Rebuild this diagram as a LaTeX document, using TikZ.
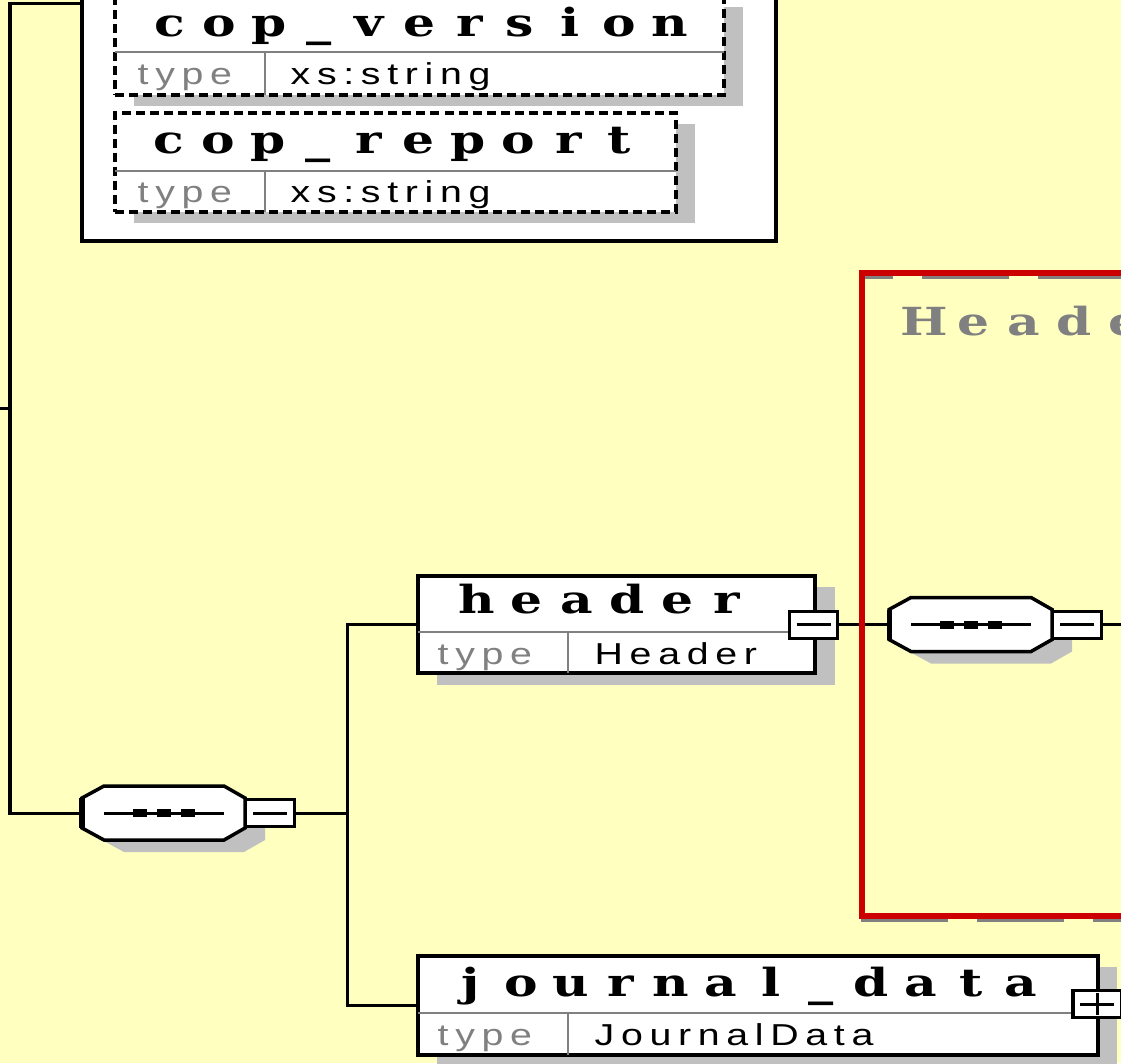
\documentclass[tikz,border=0pt]{standalone}
\usepackage{fontspec}
\usepackage{graphicx}
\usetikzlibrary{fit,calc}
\newfontfamily\namefont{DejaVu Serif}
\newfontfamily\tyfont{Liberation Sans}[LetterSpace=17]
\definecolor{bgyellow}{RGB}{255,255,192}
\definecolor{shadowgray}{RGB}{192,192,192}
\definecolor{sepgray}{RGB}{128,128,128}
\definecolor{boxred}{RGB}{204,0,0}
\ExplSyntaxOn
\NewDocumentCommand\cells{m}{\tl_map_inline:nn {#1} {\makebox[0.5cm][c]{\scalebox{1.3}[1]{##1}}}}
\ExplSyntaxOff
\newcommand\nmtext[1]{{\namefont\bfseries\fontsize{11pt}{13pt}\selectfont\cells{#1}}}
\newcommand\tytext[1]{\scalebox{1.3}[1]{\tyfont\fontsize{8.6pt}{10pt}\selectfont #1}}
\tikzset{
  conn/.style={draw=black, line width=0.03cm},
  elembox/.style={draw=black, fill=white, line width=0.035cm, inner sep=0pt},
  optbox/.style={elembox, dash pattern=on 0.09cm off 0.05cm},
  rowsep/.style={draw=sepgray, line width=0.02cm},
  nm/.style={anchor=base, inner sep=0pt},
  tylabel/.style={anchor=base west, inner sep=0pt, text=sepgray},
  tyval/.style={anchor=base west, inner sep=0pt},
  btn/.style={draw=black, fill=white, line width=0.03cm, inner sep=0pt, minimum width=0.48cm, minimum height=0.27cm},
  mark line/.style={draw=black, line width=0.03cm}
}
\newcommand\seqcomp[3]{%
  \begin{scope}[shift={(#2,#3)}]
    \fill[shadowgray, shift={(20,12)}] (-81.5,-15) -- (-59.5,-27) -- (60.5,-27) -- (81.5,-15) -- (81.5,15) -- (60.5,27) -- (-59.5,27) -- (-81.5,15) -- cycle;
    \draw[fill=white, line width=0.035cm] (-81.5,-15) -- (-59.5,-27) -- (60.5,-27) -- (81.5,-15) -- (81.5,15) -- (60.5,27) -- (-59.5,27) -- (-81.5,15) -- cycle;
    \draw[line width=0.05cm] (-81.5,-15) -- (-81.5,15);
    \node[inner sep=0pt, minimum width=1.63cm, minimum height=0.54cm] (#1) at (0,0) {};
    \draw[mark line] (-59.5,0) -- (60.5,0);
    \foreach \d in {-23.5,0.5,24.5} \fill (\d-7,-4) rectangle (\d+7,4);
    \node[btn] (#1b) at (106.5,0) {};
    \draw[mark line] (89.5,0) -- (123.5,0);
  \end{scope}}
\begin{document}
\begin{tikzpicture}[x=0.01cm, y=-0.01cm]
\clip (0,0) rectangle (1121,1063);
\fill[bgyellow] (0,0) rectangle (1121,1063);

% group box with optional attributes
\node[elembox, line width=0.04cm, fit={(82,-20) (776,241)}] (group) {};

% cop_version
\fill[shadowgray] (134,7) rectangle (743,106);
\node[optbox, fit={(115,-4) (724,95)}] (copv) {};
\draw[rowsep] (115,52) -- (724,52);
\draw[rowsep] (265,52) -- (265,95);
\node[nm] (copvname) at (419.5,36) {\nmtext{cop\_version}};
\node[tylabel] (copvtl) at (137,84) {\tytext{type}};
\node[tyval] (copvtv) at (290,84) {\tytext{xs:string}};

% cop_report
\fill[shadowgray] (134,124) rectangle (695,223);
\node[optbox, fit={(115,113) (676,212)}] (copr) {};
\draw[rowsep] (115,171) -- (676,171);
\draw[rowsep] (265,171) -- (265,212);
\node[nm] (coprname) at (393.5,153) {\nmtext{cop\_report}};
\node[tylabel] (coprtl) at (137,202) {\tytext{type}};
\node[tyval] (coprtv) at (290,202) {\tytext{xs:string}};

% left connectors
\coordinate (inL) at (0,408);
\draw[conn] (inL) -- (10,408);
\seqcomp{s1}{163.5}{813}
\draw[conn] (group.west |- 0,3) -- (10,3) -- (10,813) -- (s1.west);
\draw[conn] (s1b.east) -- (347,813);

% header element
\fill[shadowgray] (437,587) rectangle (835,685);
\node[elembox, fit={(418,576) (815,673)}] (header) {};
\draw[rowsep] (418,632) -- (815,632);
\draw[rowsep] (568,632) -- (568,673);
\node[nm] (headername) at (602,613) {\nmtext{header}};
\node[tylabel] (headertl) at (437,664) {\tytext{type}};
\node[tyval] (headertv) at (594,664) {\tytext{Header}};
\node[btn] (hbtn) at (813.5,624.5) {};
\draw[mark line] (hbtn.center) ++(-17,0) -- ++(34,0);

% journal_data element
\fill[shadowgray] (437,967) rectangle (1117,1070);
\node[elembox, fit={(418,956) (1098,1055)}] (journal) {};
\draw[rowsep] (418,1013) -- (1098,1013);
\draw[rowsep] (568,1013) -- (568,1055);
\node[nm] (journalname) at (746,996) {\nmtext{journal\_data}};
\node[tylabel] (journaltl) at (437,1045) {\tytext{type}};
\node[tyval] (journaltv) at (594,1045) {\tytext{JournalData}};
\node[btn] (jbtn) at (1097,1004) {};
\draw[mark line] (jbtn.center) ++(-17,0) -- ++(34,0);
\draw[mark line] (jbtn.center) ++(0,-11) -- ++(0,22);

% sequence connectors
\draw[conn] (header.west) -- (347,624.5) -- (347,1005.5) -- (journal.west);

% Header type group
\seqcomp{s2}{970.5}{624.5}
\draw[conn] (hbtn.east) -- (s2.west);
\coordinate (outR) at (1121,624.5);
\draw[conn] (s2b.east) -- (outR);
\draw[sepgray, line width=0.03cm, dash pattern=on 0.87cm off 0.29cm, dash phase=0.55cm] (861,277) -- (1130,277);
\draw[sepgray, line width=0.03cm, dash pattern=on 0.87cm off 0.29cm] (861,920) -- (1130,920);
\draw[boxred, line width=0.06cm] (862,273) rectangle (1200,916);
\node[nm, text=sepgray] (grouptitle) at (1049,335) {\nmtext{Header}};
\end{tikzpicture}
\end{document}
